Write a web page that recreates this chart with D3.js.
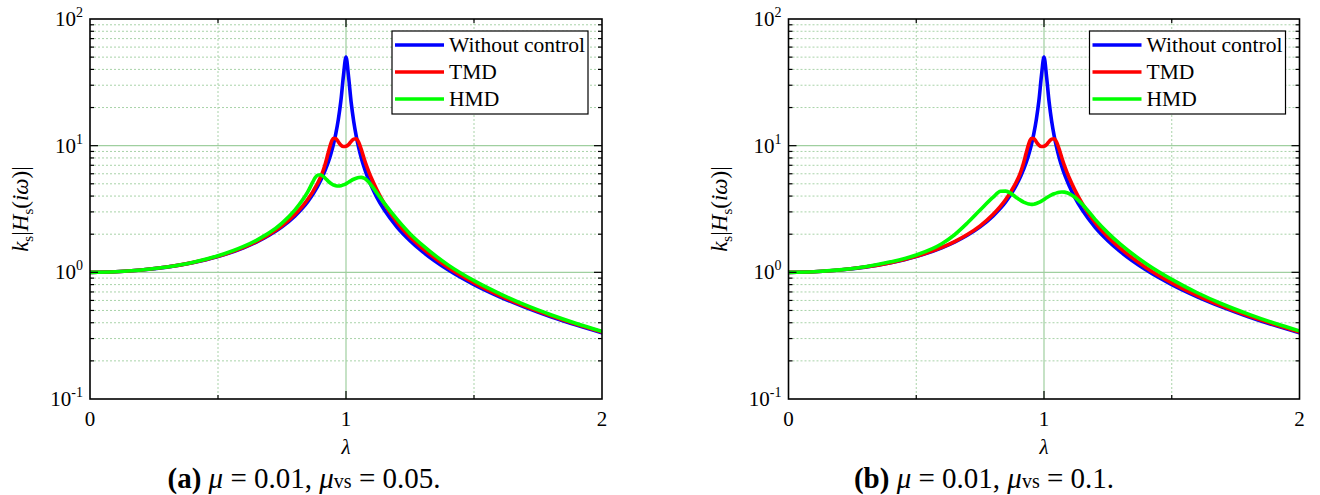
<!DOCTYPE html>
<html><head><meta charset="utf-8">
<script src="https://cdn.jsdelivr.net/npm/d3@7"></script>
<style>
html,body{margin:0;padding:0;background:#fff;}
</style></head>
<body><svg id="c" width="1320" height="495" font-family="Liberation Serif, Times New Roman, Tinos, DejaVu Serif, serif"></svg>
<script>
// ---- data ----
const lambda = [0,0.1,0.2,0.3,0.4,0.5,0.6,0.65,0.7,0.75,0.8,0.83,0.85,0.87,0.88,0.89,0.9,0.91,0.92,0.93,0.94,0.95,0.96,0.97,0.98,0.99,1.0,1.01,1.02,1.03,1.04,1.05,1.06,1.07,1.08,1.09,1.1,1.12,1.15,1.2,1.25,1.3,1.4,1.5,1.6,1.7,1.8,1.9,2.0];
const withoutControl = [1.000,1.010,1.042,1.099,1.190,1.333,1.563,1.732,1.961,2.286,2.778,3.21,3.60,4.11,4.43,4.81,5.26,5.81,6.50,7.33,8.48,10.07,12.4,16.1,22.6,35.6,50,35.1,22.1,15.6,11.9,9.56,7.97,6.83,5.96,5.31,4.76,3.93,3.10,2.27,1.78,1.449,1.042,0.800,0.641,0.529,0.446,0.383,0.333];
const tmd = [1.000,1.010,1.042,1.100,1.193,1.338,1.572,1.75,1.99,2.33,2.86,3.33,3.76,4.32,4.68,5.1,5.6,6.3,7.3,8.7,10.3,11.4,11.4,10.7,10.1,9.85,9.9,10.2,10.8,11.25,11.35,10.6,9.3,8.0,6.95,6.15,5.5,4.5,3.48,2.47,1.9,1.54,1.088,0.826,0.656,0.539,0.454,0.389,0.338];
const hmdA = [1.000,1.010,1.043,1.102,1.197,1.35,1.60,1.79,2.05,2.45,3.1,3.72,4.3,5.15,5.6,5.85,5.9,5.75,5.5,5.25,5.05,4.9,4.83,4.8,4.83,4.9,5.0,5.15,5.3,5.43,5.53,5.6,5.62,5.55,5.38,5.13,4.83,4.25,3.5,2.62,2.02,1.63,1.14,0.86,0.68,0.553,0.463,0.395,0.342];
const hmdB = [1.000,1.011,1.045,1.107,1.21,1.37,1.68,1.98,2.45,3.1,3.9,4.36,4.38,4.2,4.06,3.92,3.8,3.68,3.59,3.52,3.47,3.44,3.45,3.49,3.56,3.65,3.76,3.88,3.99,4.09,4.17,4.24,4.29,4.31,4.3,4.25,4.17,3.93,3.45,2.62,2.05,1.66,1.17,0.88,0.69,0.56,0.468,0.398,0.345];
const seriesNames = ["Without control","TMD","HMD"];
const seriesColors = ["#0000ff","#ff0000","#00ff00"];
const yTickExponents = [-1,0,1,2];
const xTickValues = [0,1,2];
const xMinorGrid = [0.5,1.5];
const captionsPrefix = ["(a)","(b)"];
const captionsMuVs = ["0.05","0.1"];
const captionsMu = "0.01";

const FONT = "'Liberation Serif', 'Times New Roman', Tinos, 'DejaVu Serif', serif";
const svg = d3.select("#c");
const panels = [
  {left:90, right:602, hmd:hmdA, cap:0, capX:304},
  {left:788.5, right:1299.5, hmd:hmdB, cap:1, capX:984}
];
const plotTop = 19, plotBottom = 399;

panels.forEach((p,pi)=>{
  const x = d3.scaleLinear().domain([0,2]).range([p.left,p.right]);
  const y = d3.scaleLog().domain([0.1,100]).range([plotBottom,plotTop]);
  const g = svg.append("g").style("font-family",FONT);
  const clipId = "clip"+pi;
  svg.append("clipPath").attr("id",clipId).append("rect")
    .attr("x",p.left).attr("y",plotTop).attr("width",p.right-p.left).attr("height",plotBottom-plotTop);

  const minors = [];
  for (let e=-1;e<2;e++) for (let k=2;k<=9;k++) minors.push(k*Math.pow(10,e));
  g.selectAll(".ymin").data(minors).enter().append("line")
    .attr("x1",p.left).attr("x2",p.right)
    .attr("y1",d=>y(d)).attr("y2",d=>y(d))
    .attr("stroke","#a9d3a9").attr("stroke-width",1).attr("stroke-dasharray","2,2");
  g.selectAll(".xmin").data(xMinorGrid).enter().append("line")
    .attr("y1",plotTop).attr("y2",plotBottom)
    .attr("x1",d=>x(d)).attr("x2",d=>x(d))
    .attr("stroke","#a9d3a9").attr("stroke-width",1).attr("stroke-dasharray","2,2");
  g.selectAll(".ymaj").data([1,10]).enter().append("line")
    .attr("x1",p.left).attr("x2",p.right)
    .attr("y1",d=>y(d)).attr("y2",d=>y(d))
    .attr("stroke","#9fcf9f").attr("stroke-width",1.2);
  g.append("line").attr("x1",x(1)).attr("x2",x(1)).attr("y1",plotTop).attr("y2",plotBottom)
    .attr("stroke","#9fcf9f").attr("stroke-width",1.2);

  const line = d3.line().x((d,i)=>x(lambda[i])).y(d=>y(d)).curve(d3.curveMonotoneX);
  const series = [withoutControl, tmd, p.hmd];
  const cg = g.append("g").attr("clip-path",`url(#${clipId})`);
  series.forEach((s,si)=>{
    cg.append("path").attr("d",line(s)).attr("fill","none")
      .attr("stroke",seriesColors[si]).attr("stroke-width",3.6)
      .attr("stroke-linejoin","round").attr("stroke-linecap","round");
  });

  const tk = g.append("g").attr("stroke","#000").attr("stroke-width",1.2);
  [1,10].forEach(v=>{
    tk.append("line").attr("x1",p.left).attr("x2",p.left+8).attr("y1",y(v)).attr("y2",y(v));
    tk.append("line").attr("x1",p.right).attr("x2",p.right-8).attr("y1",y(v)).attr("y2",y(v));
  });
  minors.forEach(v=>{
    tk.append("line").attr("x1",p.left).attr("x2",p.left+4).attr("y1",y(v)).attr("y2",y(v));
    tk.append("line").attr("x1",p.right).attr("x2",p.right-4).attr("y1",y(v)).attr("y2",y(v));
  });
  [1].forEach(v=>{
    tk.append("line").attr("x1",x(v)).attr("x2",x(v)).attr("y1",plotBottom).attr("y2",plotBottom-8);
    tk.append("line").attr("x1",x(v)).attr("x2",x(v)).attr("y1",plotTop).attr("y2",plotTop+8);
  });
  xMinorGrid.forEach(v=>{
    tk.append("line").attr("x1",x(v)).attr("x2",x(v)).attr("y1",plotBottom).attr("y2",plotBottom-4);
    tk.append("line").attr("x1",x(v)).attr("x2",x(v)).attr("y1",plotTop).attr("y2",plotTop+4);
  });
  g.append("rect").attr("x",p.left).attr("y",plotTop).attr("width",p.right-p.left).attr("height",plotBottom-plotTop)
    .attr("fill","none").attr("stroke","#000").attr("stroke-width",1.6);

  yTickExponents.forEach(e=>{
    const t = g.append("text").attr("x",p.left-7).attr("y",y(Math.pow(10,e))+7)
      .attr("text-anchor","end").attr("font-size",21);
    t.append("tspan").text("10");
    t.append("tspan").attr("dy",-9).attr("font-size",14).text(String(e));
  });
  xTickValues.forEach(v=>{
    g.append("text").attr("x",x(v)).attr("y",426).attr("text-anchor","middle")
      .attr("font-size",21).text(String(v));
  });
  g.append("text").attr("x",x(1)).attr("y",454).attr("text-anchor","middle")
    .attr("font-size",21).attr("font-style","italic").text("λ");
  const yl = g.append("text").attr("transform",`translate(${p.left-62},${(plotTop+plotBottom)/2}) rotate(-90)`)
    .attr("text-anchor","middle").attr("font-size",23);
  yl.append("tspan").attr("font-style","italic").text("k");
  yl.append("tspan").attr("font-size",15).attr("dy",5).text("s");
  yl.append("tspan").attr("dy",-5).text("|");
  yl.append("tspan").attr("font-style","italic").text("H");
  yl.append("tspan").attr("font-size",15).attr("dy",5).text("s");
  yl.append("tspan").attr("dy",-5).text("(");
  yl.append("tspan").attr("font-style","italic").text("iω");
  yl.append("tspan").text(")|");

  const lx = p.right-210, ly = 31;
  const lg = g.append("g");
  lg.append("rect").attr("x",lx).attr("y",ly).attr("width",196).attr("height",83)
    .attr("fill","#fff").attr("stroke","#000").attr("stroke-width",1.2);
  seriesNames.forEach((n,i)=>{
    const yy = ly+14+i*27;
    lg.append("line").attr("x1",lx+3).attr("x2",lx+52).attr("y1",yy).attr("y2",yy)
      .attr("stroke",seriesColors[i]).attr("stroke-width",3.6);
    lg.append("text").attr("x",lx+57).attr("y",yy+7).attr("font-size",21.5).text(n);
  });

  const cap = g.append("text").attr("x",p.capX).attr("y",488).attr("text-anchor","middle").attr("font-size",29);
  cap.append("tspan").attr("font-weight","bold").text(captionsPrefix[p.cap]);
  cap.append("tspan").text(" ");
  cap.append("tspan").attr("font-style","italic").text("μ");
  cap.append("tspan").text(" = "+captionsMu+", ");
  cap.append("tspan").attr("font-style","italic").text("μ");
  cap.append("tspan").attr("font-size",20).text("vs");
  cap.append("tspan").text(" = "+captionsMuVs[p.cap]+".");
});
</script></body></html>
